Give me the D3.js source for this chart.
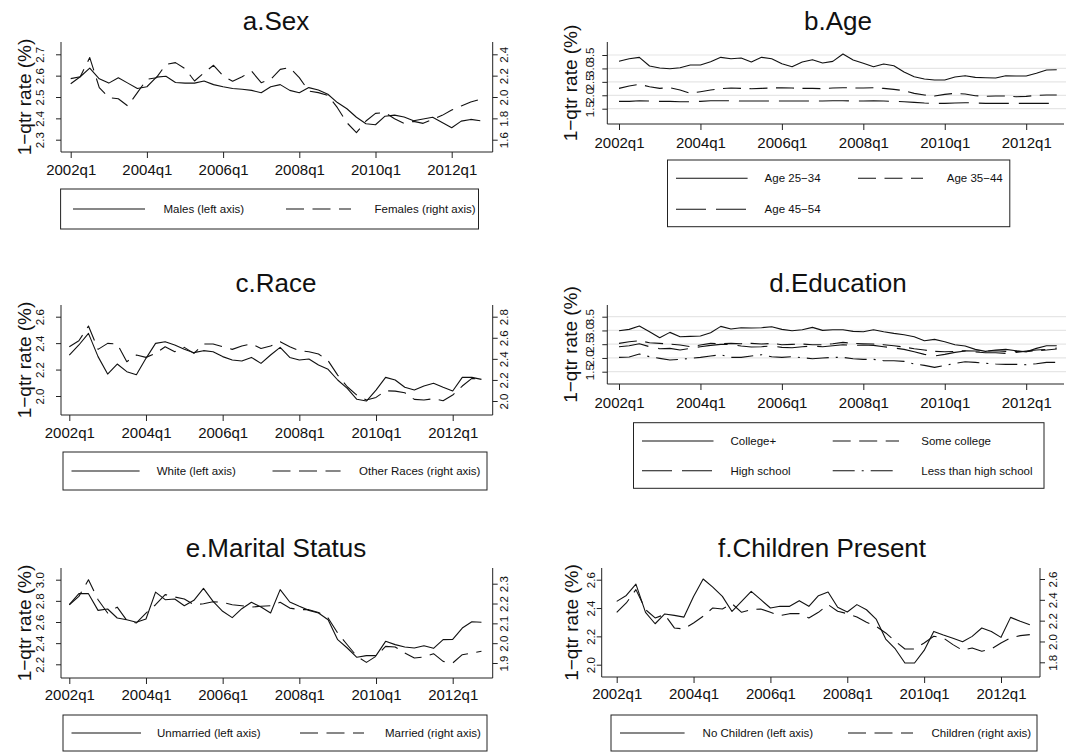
<!DOCTYPE html>
<html>
<head>
<meta charset="utf-8">
<script src="https://cdn.jsdelivr.net/npm/d3@7"></script>
<style>
  body { margin: 0; background: #fff; }
  svg { display: block; }
</style>
</head>
<body>
<div class="container"></div>
<script>
const width = 1066;
const height = 753;
const FONT = '"Liberation Sans", Arial, Helvetica, sans-serif';

// x axis: quarters 2002q1 .. 2012q4 (index 0..43), labels every 8 quarters
const tickIdx = [0, 8, 16, 24, 32, 40];
const tickLabels = ["2002q1", "2004q1", "2006q1", "2008q1", "2010q1", "2012q1"];

// a. Sex
const males = [2.562,2.595,2.635,2.585,2.565,2.59,2.565,2.54,2.548,2.593,2.597,2.568,2.565,2.565,2.575,2.558,2.548,2.54,2.536,2.531,2.52,2.548,2.558,2.531,2.52,2.544,2.533,2.513,2.474,2.445,2.405,2.375,2.37,2.41,2.415,2.406,2.389,2.397,2.405,2.381,2.356,2.387,2.395,2.389];
const females = [2.172,2.19,2.369,2.088,1.994,1.984,1.916,2.041,2.166,2.181,2.306,2.322,2.266,2.15,2.228,2.297,2.197,2.147,2.19,2.241,2.134,2.166,2.259,2.275,2.181,2.056,2.041,2.016,1.9,1.759,1.666,1.775,1.847,1.853,1.797,1.753,1.772,1.753,1.791,1.828,1.878,1.916,1.953,1.978];
const sexTicksL = [2.3, 2.4, 2.5, 2.6, 2.7];
const sexTicksR = [1.6, 1.8, 2.0, 2.2, 2.4];

// b. Age
const age2534 = [3.264,3.363,3.413,3.09,3.016,2.99,3.028,3.127,3.127,3.252,3.413,3.363,3.388,3.239,3.413,3.363,3.177,3.065,3.239,3.326,3.202,3.264,3.537,3.314,3.189,3.065,3.165,3.102,2.866,2.693,2.606,2.568,2.568,2.68,2.73,2.668,2.655,2.643,2.73,2.717,2.717,2.817,2.941,2.953];
const age3544 = [2.258,2.345,2.407,2.32,2.258,2.283,2.196,2.071,2.134,2.196,2.245,2.27,2.258,2.245,2.258,2.27,2.283,2.27,2.258,2.258,2.245,2.27,2.283,2.27,2.27,2.283,2.258,2.221,2.171,2.071,2.009,1.972,2.034,2.071,2.046,1.984,1.96,1.972,1.972,1.947,1.96,1.997,2.009,2.009];
const age4554 = [1.773,1.773,1.798,1.786,1.773,1.773,1.761,1.761,1.773,1.798,1.798,1.798,1.786,1.786,1.786,1.786,1.786,1.786,1.786,1.786,1.786,1.798,1.798,1.786,1.786,1.798,1.786,1.773,1.761,1.736,1.711,1.699,1.699,1.711,1.724,1.711,1.699,1.699,1.699,1.699,1.699,1.699,1.699,1.699];
const ageTicks = [1.5, 2.0, 2.5, 3.0, 3.5];

// c. Race
const white = [2.31,2.386,2.474,2.298,2.166,2.242,2.184,2.161,2.285,2.398,2.411,2.386,2.353,2.328,2.343,2.335,2.298,2.272,2.265,2.292,2.247,2.31,2.368,2.292,2.272,2.28,2.234,2.202,2.121,2.058,1.975,1.962,2.045,2.141,2.121,2.066,2.045,2.076,2.096,2.066,2.038,2.141,2.141,2.126];
const otherRaces = [2.515,2.572,2.711,2.49,2.547,2.541,2.373,2.436,2.414,2.452,2.515,2.468,2.509,2.452,2.541,2.541,2.515,2.49,2.522,2.541,2.499,2.522,2.563,2.515,2.477,2.468,2.446,2.382,2.246,2.135,2.056,2.009,2.034,2.097,2.094,2.078,2.015,2.009,2.022,2.003,2.056,2.142,2.215,2.205];
const raceTicksL = [2.0, 2.2, 2.4, 2.6];
const raceTicksR = [2.0, 2.2, 2.4, 2.6, 2.8];

// d. Education
const college = [2.991,3.039,3.161,2.955,2.736,2.93,2.773,2.785,2.797,2.918,3.148,3.052,3.1,3.088,3.1,3.136,3.039,2.991,3.027,3.112,3.003,3.027,3.027,2.967,2.955,3.027,2.955,2.894,2.845,2.773,2.627,2.676,2.591,2.482,2.433,2.312,2.239,2.288,2.312,2.264,2.227,2.348,2.445,2.445];
const someCollege = [2.53,2.591,2.627,2.555,2.53,2.506,2.47,2.409,2.47,2.53,2.518,2.53,2.518,2.53,2.506,2.53,2.482,2.494,2.506,2.482,2.482,2.518,2.567,2.53,2.518,2.506,2.482,2.445,2.397,2.336,2.288,2.239,2.227,2.239,2.264,2.252,2.252,2.264,2.239,2.239,2.227,2.264,2.288,2.324];
const highSchool = [2.409,2.445,2.518,2.409,2.336,2.348,2.288,2.348,2.409,2.458,2.494,2.494,2.433,2.397,2.409,2.433,2.385,2.373,2.409,2.433,2.409,2.445,2.482,2.458,2.47,2.458,2.409,2.361,2.312,2.227,2.13,2.07,2.13,2.203,2.252,2.215,2.191,2.191,2.167,2.203,2.252,2.288,2.312,2.361];
const lessHighSchool = [2.021,2.033,2.142,2.045,1.985,1.924,1.948,1.985,2.021,2.07,2.118,2.021,2.021,2.07,2.118,2.045,2.021,2.045,2.009,1.973,1.997,2.021,2.021,1.973,1.948,1.948,1.9,1.9,1.876,1.779,1.73,1.658,1.73,1.803,1.864,1.839,1.803,1.779,1.767,1.767,1.755,1.791,1.839,1.839];
const eduTicks = [1.5, 2.0, 2.5, 3.0, 3.5];

// e. Marital status
const unmarried = [2.764,2.868,2.868,2.71,2.723,2.638,2.622,2.597,2.628,2.883,2.811,2.817,2.754,2.805,2.918,2.795,2.701,2.641,2.726,2.786,2.742,2.685,2.906,2.789,2.748,2.71,2.685,2.622,2.433,2.354,2.266,2.282,2.282,2.417,2.386,2.364,2.354,2.376,2.351,2.433,2.436,2.543,2.603,2.597];
const married = [2.194,2.236,2.32,2.219,2.152,2.182,2.115,2.102,2.152,2.194,2.245,2.233,2.223,2.194,2.199,2.209,2.206,2.194,2.189,2.182,2.186,2.189,2.206,2.177,2.169,2.169,2.155,2.127,2.051,1.992,1.934,1.903,1.934,1.984,1.981,1.95,1.925,1.93,1.947,1.908,1.9,1.942,1.95,1.959];
const maritalTicksL = [2.2, 2.4, 2.6, 2.8, 3.0];
const maritalTicksR = [1.9, 2.0, 2.1, 2.2, 2.3];

// f. Children present
const noChildren = [2.447,2.489,2.569,2.369,2.289,2.358,2.348,2.336,2.482,2.605,2.548,2.482,2.376,2.447,2.518,2.459,2.4,2.412,2.412,2.452,2.412,2.487,2.513,2.405,2.372,2.424,2.388,2.322,2.181,2.111,2.012,2.012,2.101,2.235,2.209,2.186,2.162,2.2,2.259,2.235,2.193,2.334,2.306,2.282];
const children = [2.28,2.37,2.498,2.306,2.226,2.258,2.13,2.12,2.178,2.242,2.322,2.312,2.363,2.28,2.306,2.312,2.28,2.248,2.267,2.267,2.226,2.28,2.354,2.29,2.267,2.235,2.184,2.146,2.082,2.002,1.928,1.928,1.986,2.05,2.034,1.97,1.915,1.938,1.906,1.928,1.986,2.034,2.056,2.066];
const childTicksL = [2.0, 2.2, 2.4, 2.6];
const childTicksR = [1.8, 2.0, 2.2, 2.4, 2.6];

const DASH = "18,8.5";
const LONGDASH = "30,10";
const DASHDOT = "22,7,2,7";

const panels = [
  { title: "a.Sex", tx: 276, ty: 30, left: 61, right: 492.7, top: 42, bottom: 152, xr: [70.7, 451.7], lab: 23,
    yL: { dom: [2.3, 2.7], rng: [139.7, 54.3], ticks: sexTicksL, off: 17 },
    yR: { dom: [1.6, 2.4], rng: [139.7, 54.3], ticks: sexTicksR, off: 15 },
    titleX: 31,
    series: [
      { v: males, axis: "L", dash: null, label: "Males (left axis)" },
      { v: females, axis: "R", dash: DASH, label: "Females (right axis)" }],
    legend: { box: [60.6, 189, 478.5, 229],
      items: [{ k: [73, 145], t: 163.5, y: 209 }, { k: [286, 351], t: 374.6, y: 209 }] } },
  { title: "b.Age", tx: 838, ty: 30, left: 607.3, right: 1066, top: 42, bottom: 124, xr: [619, 1026.2], grid: true, lab: 24,
    yL: { dom: [1.5, 3.5], rng: [108.7, 55], ticks: ageTicks, off: 13.5 },
    titleX: 577,
    series: [
      { v: age2534, axis: "L", dash: null, label: "Age 25−34" },
      { v: age3544, axis: "L", dash: DASH, label: "Age 35−44" },
      { v: age4554, axis: "L", dash: LONGDASH, label: "Age 45−54" }],
    legend: { box: [667.5, 160, 1009.8, 226.7],
      items: [{ k: [676, 747.6], t: 764.6, y: 178.3 }, { k: [858, 923], t: 946.8, y: 178.3 },
              { k: [676, 747.6], t: 764.6, y: 209.3 }] } },
  { title: "c.Race", tx: 276, ty: 292, left: 61, right: 492.7, top: 305, bottom: 415, xr: [69.3, 452.7], lab: 23,
    yL: { dom: [2.0, 2.6], rng: [396, 316.7], ticks: raceTicksL, off: 17 },
    yR: { dom: [2.0, 2.8], rng: [401, 316.7], ticks: raceTicksR, off: 15 },
    titleX: 31,
    series: [
      { v: white, axis: "L", dash: null, label: "White (left axis)" },
      { v: otherRaces, axis: "R", dash: DASH, label: "Other Races (right axis)" }],
    legend: { box: [63, 452, 487, 490],
      items: [{ k: [71.5, 139.6], t: 156.7, y: 471 }, { k: [272.5, 340.6], t: 359, y: 471 }] } },
  { title: "d.Education", tx: 838, ty: 292, left: 607.3, right: 1066, top: 305, bottom: 384, xr: [619, 1026.2], grid: true, lab: 24,
    yL: { dom: [1.5, 3.5], rng: [371.7, 316.7], ticks: eduTicks, off: 13.5 },
    titleX: 577,
    series: [
      { v: college, axis: "L", dash: null, label: "College+" },
      { v: someCollege, axis: "L", dash: DASH, label: "Some college" },
      { v: highSchool, axis: "L", dash: LONGDASH, label: "High school" },
      { v: lessHighSchool, axis: "L", dash: DASHDOT, label: "Less than high school" }],
    legend: { box: [633.5, 422.7, 1044, 488.3],
      items: [{ k: [642, 713.5], t: 730.5, y: 441 }, { k: [832.7, 899], t: 921.3, y: 441 },
              { k: [642, 713.5], t: 730.5, y: 470.7 }, { k: [832.7, 899], t: 921.3, y: 470.7 }] } },
  { title: "e.Marital Status", tx: 276, ty: 557, left: 61, right: 492.7, top: 568, bottom: 678, xr: [69.3, 452.7], lab: 22,
    yL: { dom: [2.2, 3.0], rng: [664.3, 579.7], ticks: maritalTicksL, off: 17 },
    yR: { dom: [1.9, 2.3], rng: [663, 583.7], ticks: maritalTicksR, off: 15 },
    titleX: 31,
    series: [
      { v: unmarried, axis: "L", dash: null, label: "Unmarried (left axis)" },
      { v: married, axis: "R", dash: DASH, label: "Married (right axis)" }],
    legend: { box: [63, 715, 487, 751],
      items: [{ k: [71.5, 141], t: 157, y: 733 }, { k: [300, 364], t: 385, y: 733 }] } },
  { title: "f.Children Present", tx: 822, ty: 557, left: 601.7, right: 1040, top: 568, bottom: 677, xr: [616.7, 1001], lab: 22,
    yL: { dom: [2.0, 2.6], rng: [664.7, 579.7], ticks: childTicksL, off: 7 },
    yR: { dom: [1.8, 2.6], rng: [662.3, 579], ticks: childTicksR, off: 17 },
    titleX: 578,
    series: [
      { v: noChildren, axis: "L", dash: null, label: "No Children (left axis)" },
      { v: children, axis: "R", dash: DASH, label: "Children (right axis)" }],
    legend: { box: [611, 715, 1037, 751],
      items: [{ k: [620, 684.6], t: 702.6, y: 733 }, { k: [848, 913], t: 931.5, y: 733 }] } }
];

const svg = d3.select(".container")
  .append("svg")
  .attr("width", width)
  .attr("height", height)
  .style("font-family", FONT);

svg.append("rect").attr("width", width).attr("height", height).attr("fill", "#fff");

function drawYAxis(g, scale, ticks, xPos, side, off, tickLen) {
  const ax = (side === "left" ? d3.axisLeft(scale) : d3.axisRight(scale))
    .tickValues(ticks)
    .tickFormat(d3.format(".1f"))
    .tickSize(tickLen);
  const ga = g.append("g")
    .attr("transform", `translate(${xPos},0)`)
    .call(ax)
    .attr("font-family", FONT)
    .attr("font-size", 11.5);
  ga.select(".domain").remove();
  ga.selectAll("line").attr("stroke", "#222");
  ga.selectAll("text")
    .attr("x", 0)
    .attr("dy", null)
    .attr("y", side === "left" ? -off : off)
    .attr("transform", "rotate(-90)")
    .attr("text-anchor", "middle")
    .attr("fill", "#111");
}

function drawPanel(p) {
  const g = svg.append("g");
  const x = d3.scaleLinear().domain([0, 40]).range(p.xr);
  const yL = d3.scaleLinear().domain(p.yL.dom).range(p.yL.rng);
  const yR = p.yR ? d3.scaleLinear().domain(p.yR.dom).range(p.yR.rng) : null;

  // gridlines (single-axis panels)
  if (p.grid) {
    g.append("g").selectAll("line")
      .data(p.yL.ticks)
      .join("line")
      .attr("x1", p.left).attr("x2", p.right)
      .attr("y1", d => yL(d)).attr("y2", d => yL(d))
      .attr("stroke", "#e6e6e6")
      .attr("stroke-width", 1.2);
  }

  // axis lines
  g.append("line")
    .attr("x1", p.left).attr("x2", p.left)
    .attr("y1", p.top).attr("y2", p.bottom)
    .attr("stroke", "#222");
  g.append("line")
    .attr("x1", p.left).attr("x2", p.grid ? p.right - 2 : p.right)
    .attr("y1", p.bottom).attr("y2", p.bottom)
    .attr("stroke", "#222");
  if (yR) {
    g.append("line")
      .attr("x1", p.right).attr("x2", p.right)
      .attr("y1", p.top).attr("y2", p.bottom)
      .attr("stroke", "#222");
  }

  // x axis
  const gx = g.append("g")
    .attr("transform", `translate(0,${p.bottom})`)
    .call(d3.axisBottom(x).tickValues(tickIdx).tickFormat((d, i) => tickLabels[i]).tickSize(6))
    .attr("font-family", FONT)
    .attr("font-size", 15);
  gx.select(".domain").remove();
  gx.selectAll("line").attr("stroke", "#222");
  gx.selectAll("text").attr("y", p.lab).attr("dy", null).attr("fill", "#111");

  // y axes
  drawYAxis(g, yL, p.yL.ticks, p.left, "left", p.yL.off, 5);
  if (yR) drawYAxis(g, yR, p.yR.ticks, p.right, "right", p.yR.off, 5);

  // y title
  g.append("text")
    .attr("transform", `translate(${p.titleX},${(p.top + p.bottom) / 2}) rotate(-90)`)
    .attr("text-anchor", "middle")
    .attr("font-size", 19)
    .attr("fill", "#111")
    .text("1−qtr rate (%)");

  // title
  g.append("text")
    .attr("x", p.tx).attr("y", p.ty)
    .attr("text-anchor", "middle")
    .attr("font-size", 26)
    .attr("fill", "#111")
    .text(p.title);

  // series
  p.series.forEach(s => {
    const yS = s.axis === "R" ? yR : yL;
    const line = d3.line().x((d, i) => x(i)).y(d => yS(d));
    g.append("path")
      .datum(s.v)
      .attr("d", line)
      .attr("fill", "none")
      .attr("stroke", "#111")
      .attr("stroke-width", 1.1)
      .attr("stroke-linejoin", "round")
      .attr("stroke-dasharray", s.dash);
  });

  // legend
  const b = p.legend.box;
  const lg = g.append("g");
  lg.append("rect")
    .attr("x", b[0]).attr("y", b[1])
    .attr("width", b[2] - b[0]).attr("height", b[3] - b[1])
    .attr("fill", "#fff")
    .attr("stroke", "#222");
  p.legend.items.forEach((it, i) => {
    const s = p.series[i];
    lg.append("line")
      .attr("x1", it.k[0]).attr("x2", it.k[1])
      .attr("y1", it.y).attr("y2", it.y)
      .attr("stroke", "#111")
      .attr("stroke-width", 1.1)
      .attr("stroke-dasharray", s.dash);
    lg.append("text")
      .attr("x", it.t).attr("y", it.y)
      .attr("dy", "0.35em")
      .attr("font-size", 11.5)
      .attr("fill", "#111")
      .text(s.label);
  });
}

panels.forEach(drawPanel);
</script>
</body>
</html>
